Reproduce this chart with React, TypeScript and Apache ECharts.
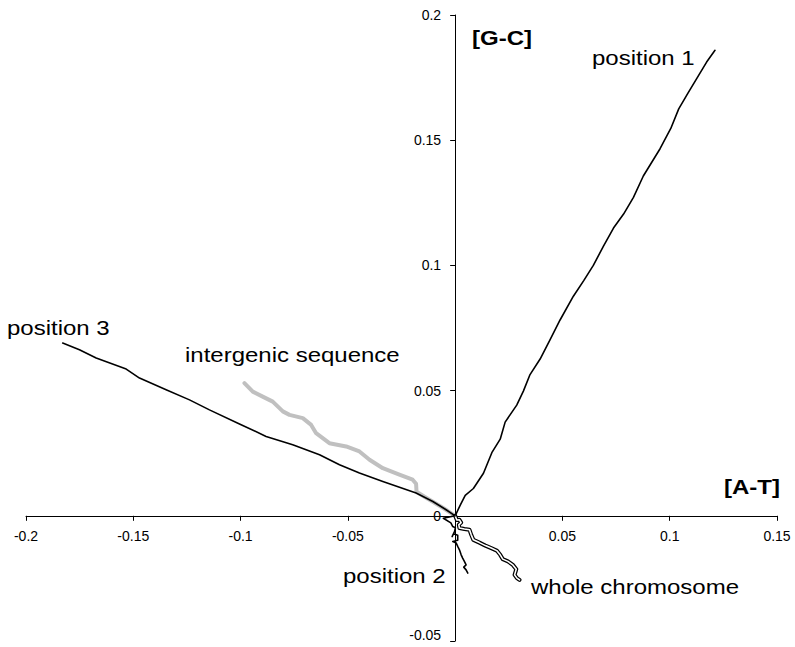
import React, { useEffect, useRef } from "react";
import * as echarts from "echarts";

// [A-T], [G-C] cumulative skew walks
const position1: [number, number][] = [
  [0, 0], [0.0025, 0.0045], [0.0047, 0.0082], [0.0085, 0.0109], [0.0132, 0.017],
  [0.0171, 0.0252], [0.021, 0.0306], [0.0233, 0.0374], [0.0287, 0.0442],
  [0.0318, 0.0498], [0.0349, 0.0564], [0.0396, 0.0626], [0.0445, 0.0708],
  [0.0489, 0.0782], [0.0551, 0.0877], [0.06, 0.094], [0.0644, 0.1], [0.069, 0.1075],
  [0.0738, 0.1149], [0.0785, 0.1205], [0.0831, 0.1272], [0.0877, 0.1357],
  [0.0955, 0.1466], [0.1005, 0.1547], [0.1042, 0.1625], [0.1085, 0.1688],
  [0.1125, 0.1745], [0.1172, 0.1812], [0.1211, 0.1859],
];

const position3: [number, number][] = [
  [0, 0], [-0.0042, 0.0024], [-0.0104, 0.0057], [-0.0182, 0.0091], [-0.0337, 0.0137],
  [-0.0446, 0.0171], [-0.0539, 0.0204], [-0.0632, 0.0244], [-0.0757, 0.0284],
  [-0.0881, 0.0317], [-0.1005, 0.0367], [-0.1145, 0.0423], [-0.1238, 0.0463],
  [-0.1347, 0.0503], [-0.1471, 0.055], [-0.1533, 0.0586], [-0.1673, 0.063],
  [-0.1751, 0.0663], [-0.1829, 0.069],
];

const intergenic: [number, number][] = [
  [0, 0], [-0.005, 0.0028], [-0.0096, 0.0052], [-0.0143, 0.0076], [-0.018, 0.0096],
  [-0.0182, 0.0128], [-0.0198, 0.0144], [-0.026, 0.0164], [-0.0337, 0.019],
  [-0.0399, 0.0224], [-0.0446, 0.0257], [-0.0508, 0.0277], [-0.0586, 0.029],
  [-0.0648, 0.033], [-0.0671, 0.0363], [-0.071, 0.039], [-0.0772, 0.0403],
  [-0.0803, 0.0417], [-0.085, 0.0456], [-0.0897, 0.0476], [-0.0943, 0.0496],
  [-0.0982, 0.053],
];

const position2: [number, number][] = [
  [0, 0], [-0.0055, -0.001], [-0.002, -0.0028], [-0.0011, -0.0043], [0.0001, -0.0048],
  [-0.0003, -0.0063], [-0.0014, -0.0083], [-0.0008, -0.0072], [0.0012, -0.0078],
  [0.0012, -0.0098], [-0.0011, -0.0103], [0.0005, -0.0109], [0.0012, -0.0122],
  [0.002, -0.0136], [0.0028, -0.0156], [0.0035, -0.0169], [0.0043, -0.0182],
  [0.0051, -0.0196], [0.004, -0.0205], [0.0051, -0.0216], [0.0059, -0.0229],
];

const wholeChromosome: [number, number][] = [
  [0, 0], [0.0008, -0.0017], [0.002, -0.0016], [0.0028, -0.0027], [0.0017, -0.0036],
  [0.002, -0.0049], [0.0043, -0.0053], [0.0067, -0.0056], [0.0075, -0.0076],
  [0.0085, -0.0096], [0.0113, -0.0107], [0.0141, -0.0119], [0.0168, -0.0129],
  [0.0194, -0.0139], [0.021, -0.0156], [0.0222, -0.0173], [0.0246, -0.0182],
  [0.0269, -0.0196], [0.0285, -0.0213], [0.0277, -0.0236], [0.0288, -0.0249],
  [0.03, -0.0256],
];

const xRange = { min: -0.2, max: 0.15, step: 0.05 };
const yRange = { min: -0.05, max: 0.2, step: 0.05 };

const W = 795;
const H = 647;
const GRID = { left: 26, right: 18, top: 15, bottom: 6 };

const FONT = '"Liberation Sans", Arial, Helvetica, sans-serif';

function label(text: string, x: number, y: number, bold = false) {
  return {
    type: "text",
    x,
    y,
    scaleX: 1.2,
    silent: true,
    style: {
      text,
      font: `${bold ? "bold " : ""}20px ${FONT}`,
      fill: "#000",
      textAlign: "left",
      textVerticalAlign: "middle",
      align: "left",
      verticalAlign: "middle",
    },
  };
}

function fmt(v: number) {
  if (Math.abs(v) < 1e-9) return "";
  return String(+v.toFixed(2));
}

export default function App() {
  const ref = useRef<HTMLDivElement>(null);
  useEffect(() => {
    if (!ref.current) return;
    const chart = echarts.init(ref.current, undefined, { renderer: "svg" });
    const line = (name: string, data: [number, number][], color: string, width: number) => ({
      name,
      type: "line",
      data,
      showSymbol: false,
      symbol: "none",
      smooth: false,
      lineStyle: { color, width, join: "round", cap: "round" },
      silent: true,
    });
    // place both axes (line, ticks and labels) through the origin
    const gw = W - GRID.left - GRID.right;
    const gh = H - GRID.top - GRID.bottom;
    const xOffset = -((0 - yRange.min) / (yRange.max - yRange.min)) * gh;
    const yOffset = -((0 - xRange.min) / (xRange.max - xRange.min)) * gw;
    chart.setOption({
      animation: false,
      backgroundColor: "#fff",
      textStyle: { fontFamily: FONT },
      grid: { ...GRID, containLabel: false, outerBoundsMode: "none" },
      xAxis: {
        type: "value",
        position: "bottom",
        offset: xOffset,
        min: xRange.min,
        max: xRange.max,
        interval: xRange.step,
        axisLine: { onZero: false, lineStyle: { color: "#000", width: 1 } },
        axisTick: { show: true, length: 5, lineStyle: { color: "#000" } },
        axisLabel: {
          color: "#000",
          fontSize: 14,
          lineHeight: 12,
          fontFamily: FONT,
          margin: 14,
          formatter: fmt,
          showMinLabel: true,
          showMaxLabel: true,
          hideOverlap: false,
        },
        splitLine: { show: false },
      },
      yAxis: {
        type: "value",
        position: "left",
        offset: yOffset,
        min: yRange.min,
        max: yRange.max,
        interval: yRange.step,
        axisLine: { onZero: false, lineStyle: { color: "#000", width: 1 } },
        axisTick: { show: true, length: 5, lineStyle: { color: "#000" } },
        axisLabel: {
          color: "#000",
          fontSize: 14,
          lineHeight: 12,
          fontFamily: FONT,
          margin: 14,
          verticalAlignMinLabel: "bottom",
          formatter: (v: number) => (Math.abs(v) < 1e-9 ? "0" : String(+v.toFixed(2))),
          showMinLabel: true,
          showMaxLabel: true,
          hideOverlap: false,
        },
        splitLine: { show: false },
      },
      series: [
        line("intergenic sequence", intergenic, "#c0c0c0", 4),
        line("position 3", position3, "#000", 1.6),
        line("position 1", position1, "#000", 1.6),
        line("whole chromosome outline", wholeChromosome, "#000", 4),
        line("whole chromosome", wholeChromosome, "#fff", 1.6),
        line("position 2", position2, "#000", 1.6),
      ],
      graphic: [
        label("[G-C]", 472, 38, true),
        label("position 1", 592, 58),
        label("position 3", 7, 328),
        label("intergenic sequence", 185, 355),
        label("[A-T]", 724, 487, true),
        label("position 2", 343, 576),
        label("whole chromosome", 531, 587),
      ],
    });
    return () => chart.dispose();
  }, []);
  return (
    <div
      ref={ref}
      style={{ position: "fixed", left: 0, top: 0, width: W, height: H, background: "#fff" }}
    />
  );
}
